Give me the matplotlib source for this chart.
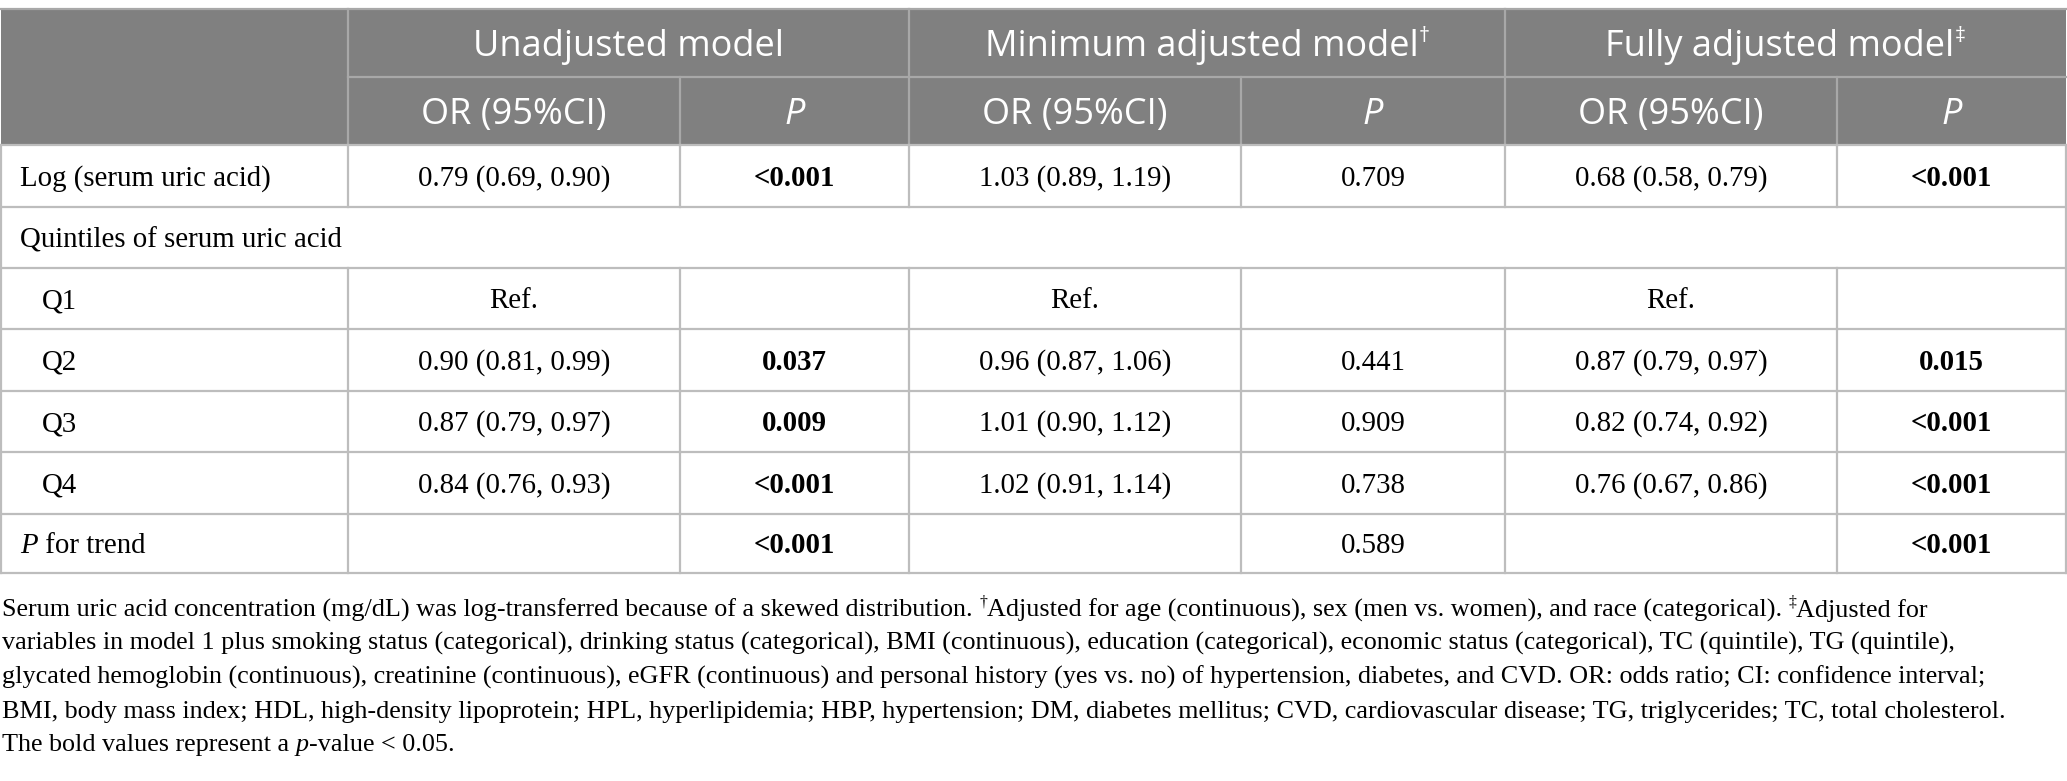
import matplotlib
matplotlib.use("Agg")
import matplotlib.pyplot as plt
from matplotlib.patches import Rectangle

# ---------------- data ----------------
group_labels = ["Unadjusted model", "Minimum adjusted model", "Fully adjusted model"]
group_marks = ["", "\u2020", "\u2021"]
sub_labels = ["OR (95%CI)", "P"]
row_labels = ["Log (serum uric acid)", "Quintiles of serum uric acid", "Q1", "Q2", "Q3", "Q4", "P for trend"]
row_indent = [False, False, True, True, True, True, False]
unadj_or = ["0.79 (0.69, 0.90)", None, "Ref.", "0.90 (0.81, 0.99)", "0.87 (0.79, 0.97)", "0.84 (0.76, 0.93)", ""]
unadj_p = ["<0.001", None, "", "0.037", "0.009", "<0.001", "<0.001"]
min_or = ["1.03 (0.89, 1.19)", None, "Ref.", "0.96 (0.87, 1.06)", "1.01 (0.90, 1.12)", "1.02 (0.91, 1.14)", ""]
min_p = ["0.709", None, "", "0.441", "0.909", "0.738", "0.589"]
full_or = ["0.68 (0.58, 0.79)", None, "Ref.", "0.87 (0.79, 0.97)", "0.82 (0.74, 0.92)", "0.76 (0.67, 0.86)", ""]
full_p = ["<0.001", None, "", "0.015", "<0.001", "<0.001", "<0.001"]
footnote_lines = [
    [("Serum uric acid concentration (mg/dL) was log-transferred because of a skewed distribution. ", "n"),
     ("\u2020", "sup"), ("Adjusted for age (continuous), sex (men vs. women), and race (categorical). ", "n"),
     ("\u2021", "sup"), ("Adjusted for", "n")],
    [("variables in model 1 plus smoking status (categorical), drinking status (categorical), BMI (continuous), education (categorical), economic status (categorical), TC (quintile), TG (quintile),", "n")],
    [("glycated hemoglobin (continuous), creatinine (continuous), eGFR (continuous) and personal history (yes vs. no) of hypertension, diabetes, and CVD. OR: odds ratio; CI: confidence interval;", "n")],
    [("BMI, body mass index; HDL, high-density lipoprotein; HPL, hyperlipidemia; HBP, hypertension; DM, diabetes mellitus; CVD, cardiovascular disease; TG, triglycerides; TC, total cholesterol.", "n")],
    [("The bold values represent a ", "n"), ("p", "it"), ("-value < 0.05.", "n")],
]

# ---------------- layout (pixels) ----------------
W, H = 2067, 781
col_x = [1, 348, 680, 909, 1241, 1505, 1837, 2066]
row_y = [9, 77, 145, 207, 268, 329, 391, 452, 514, 573]
foot_y = [608, 641, 675, 709, 742]
FOOT_TARGET_W = 2000  # width of the longest footnote line in pixels

HEAD_BG = "#808080"
HEAD_LINE = "#a8a8a8"
BODY_LINE = "#bdbdbd"
SANS = "Open Sans"
SERIF = "Liberation Serif"
HEAD_FS = 26
BODY_FS = 20.8

fig = plt.figure(figsize=(W / 100, H / 100), dpi=100)
ax = fig.add_axes([0, 0, 1, 1])
ax.set_xlim(0, W)
ax.set_ylim(H, 0)
ax.axis("off")
fig.canvas.draw()
renderer = fig.canvas.get_renderer()


def runs(x, y, parts, ha="left", color="black", family=SERIF, fs=BODY_FS, draw=True):
    """Draw a sequence of differently styled text pieces on a common baseline."""
    items = []
    for txt, style in parts:
        kw = dict(family=family, fontsize=fs, color=color, va="baseline", ha="left")
        dy = 0
        if style == "it":
            kw["style"] = "italic"
        elif style == "b":
            kw["weight"] = "bold"
        elif style == "sup":
            kw["fontsize"] = fs * 0.6
            dy = -fs * 0.55
        t = ax.text(0, y + dy, txt, **kw)
        items.append(t)
    widths = [t.get_window_extent(renderer).width for t in items]
    total = sum(widths)
    if not draw:
        for t in items:
            t.remove()
        return total
    cx = x - total / 2 if ha == "center" else x
    for t, w in zip(items, widths):
        t.set_x(cx)
        cx += w
    return total


# header background
ax.add_patch(Rectangle((col_x[0], row_y[0]), col_x[-1] - col_x[0], row_y[2] - row_y[0],
                       facecolor=HEAD_BG, edgecolor="none", zorder=0))

lw = 1.6
ax.plot([col_x[0], col_x[-1]], [row_y[0], row_y[0]], color=HEAD_LINE, lw=lw)
ax.plot([col_x[1], col_x[-1]], [row_y[1], row_y[1]], color=HEAD_LINE, lw=lw)
for i, cx in enumerate(col_x):
    if i in (0, len(col_x) - 1):
        continue
    top = row_y[0] if i in (1, 3, 5) else row_y[1]
    ax.plot([cx, cx], [top, row_y[2]], color=HEAD_LINE, lw=lw)

for ry in row_y[2:]:
    ax.plot([col_x[0], col_x[-1]], [ry, ry], color=BODY_LINE, lw=lw)
for cx in (col_x[0], col_x[-1]):
    ax.plot([cx, cx], [row_y[2], row_y[-1]], color=BODY_LINE, lw=lw)
for r in range(len(row_labels)):
    if unadj_or[r] is None:
        continue
    for cx in col_x[1:-1]:
        ax.plot([cx, cx], [row_y[r + 2], row_y[r + 3]], color=BODY_LINE, lw=lw)

# header text
head_base = 0.36 * HEAD_FS * 100 / 72
for g in range(3):
    xc = (col_x[1 + 2 * g] + col_x[3 + 2 * g]) / 2
    yc = (row_y[0] + row_y[1]) / 2 + head_base
    parts = [(group_labels[g], "n")]
    if group_marks[g]:
        parts.append((group_marks[g], "sup"))
    runs(xc, yc, parts, ha="center", color="white", family=SANS, fs=HEAD_FS)
    for s in range(2):
        xs = (col_x[1 + 2 * g + s] + col_x[2 + 2 * g + s]) / 2
        ys = (row_y[1] + row_y[2]) / 2 + head_base
        runs(xs, ys, [(sub_labels[s], "it" if sub_labels[s] == "P" else "n")],
             ha="center", color="white", family=SANS, fs=HEAD_FS)


def is_bold(p):
    if not p:
        return False
    if p.startswith("<"):
        return True
    return float(p) < 0.05


body_base = 0.33 * BODY_FS * 100 / 72
cols_data = [(unadj_or, unadj_p), (min_or, min_p), (full_or, full_p)]
for r, lab in enumerate(row_labels):
    yc = (row_y[r + 2] + row_y[r + 3]) / 2 + body_base
    x0 = 42 if row_indent[r] else 20
    if lab.startswith("P for"):
        runs(x0, yc, [("P", "it"), (lab[1:], "n")])
    else:
        runs(x0, yc, [(lab, "n")])
    for g, (orv, pv) in enumerate(cols_data):
        if orv[r] is None:
            continue
        if orv[r]:
            runs((col_x[1 + 2 * g] + col_x[2 + 2 * g]) / 2, yc, [(orv[r], "n")], ha="center")
        if pv[r]:
            runs((col_x[2 + 2 * g] + col_x[3 + 2 * g]) / 2, yc,
                 [(pv[r], "b" if is_bold(pv[r]) else "n")], ha="center")

# footnote: size chosen so the longest line spans the measured width
probe = max(runs(0, 0, p, fs=10, draw=False) for p in footnote_lines)
foot_fs = 10 * FOOT_TARGET_W / probe
foot_base = 0.33 * foot_fs * 100 / 72
for i, parts in enumerate(footnote_lines):
    runs(2, foot_y[i] + foot_base, parts, fs=foot_fs)

fig.savefig("out.png", dpi=100, facecolor="white")
